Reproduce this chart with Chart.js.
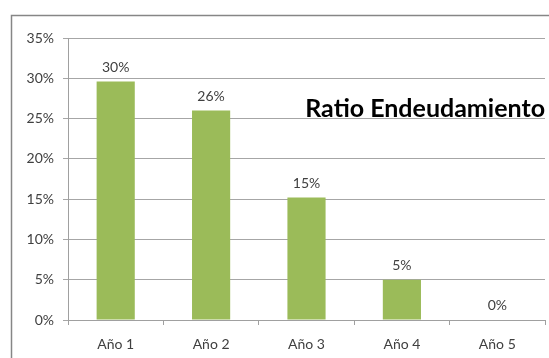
<!DOCTYPE html>
<html>
<head>
<meta charset="utf-8">
<script src="https://cdn.jsdelivr.net/npm/chart.js@4"></script>
<style>
  html, body { margin: 0; padding: 0; background: #ffffff; overflow: hidden; }
  #wrap { width: 549px; height: 358px; }
</style>
</head>
<body>
<div id="wrap"><canvas id="c" width="549" height="358"></canvas></div>
<script>
// Debt ratio per year
const categories = ['Año 1', 'Año 2', 'Año 3', 'Año 4', 'Año 5'];
const ratioValues = [0.296, 0.26, 0.152, 0.05, 0.0];
const yTicks = [0, 0.05, 0.10, 0.15, 0.20, 0.25, 0.30, 0.35];
const chartTitle = 'Ratio Endeudamiento';

const FONT = "Lato, 'Liberation Sans', sans-serif";
const TEXT = '#404040';

const pct = v => Math.round(v * 100) + '%';

// Frame around the whole chart: its top and left edges are the only ones in view
const framePlugin = {
  id: 'frame',
  beforeDraw(chart) {
    const ctx = chart.ctx;
    ctx.save();
    ctx.strokeStyle = '#868686';
    ctx.lineWidth = 1.5;
    ctx.beginPath();
    ctx.moveTo(11.5, chart.height);
    ctx.lineTo(11.5, 15.5);
    ctx.lineTo(chart.width, 15.5);
    ctx.stroke();
    ctx.restore();
  }
};

// Value labels over each bar and the chart heading inside the plot
const labelPlugin = {
  id: 'barLabels',
  afterDatasetsDraw(chart) {
    const ctx = chart.ctx;
    const meta = chart.getDatasetMeta(0);
    ctx.save();
    ctx.fillStyle = TEXT;
    ctx.font = '14px ' + FONT;
    ctx.textAlign = 'center';
    ctx.textBaseline = 'alphabetic';
    meta.data.forEach((bar, i) => {
      ctx.fillText(pct(ratioValues[i]), bar.x, bar.y - 10);
    });
    const area = chart.chartArea;
    ctx.font = 'bold 25px ' + FONT;
    ctx.fillStyle = '#000000';
    ctx.textAlign = 'right';
    ctx.fillText(chartTitle, area.right, 117);
    ctx.restore();
  }
};

new Chart(document.getElementById('c'), {
  type: 'bar',
  data: {
    labels: categories,
    datasets: [{
      data: ratioValues,
      backgroundColor: '#9BBB59',
      borderWidth: 0,
      barPercentage: 0.4,
      categoryPercentage: 1.0
    }]
  },
  options: {
    responsive: false,
    animation: false,
    events: [],
    layout: { padding: { left: 0, top: 38, right: 4, bottom: 0 } },
    plugins: {
      legend: { display: false },
      title: { display: false },
      tooltip: { enabled: false }
    },
    scales: {
      x: {
        grid: {
          offset: true,
          drawOnChartArea: false,
          drawTicks: true,
          tickLength: 5,
          color: '#a0a0a0'
        },
        border: { display: true, color: '#a0a0a0' },
        ticks: {
          color: TEXT,
          font: { family: FONT, size: 14 },
          padding: 11
        },
        afterFit(scale) { scale.height = 38; }
      },
      y: {
        min: 0,
        max: 0.35,
        afterBuildTicks(scale) {
          scale.ticks = yTicks.map(v => ({ value: v }));
        },
        grid: {
          color: '#a6a6a6',
          tickLength: 5,
          drawTicks: true
        },
        border: { display: true, color: '#a0a0a0' },
        ticks: {
          color: TEXT,
          font: { family: FONT, size: 14 },
          padding: 9,
          callback: v => pct(v)
        },
        afterFit(scale) { scale.width = 68; }
      }
    }
  },
  plugins: [framePlugin, labelPlugin]
});
</script>
</body>
</html>
